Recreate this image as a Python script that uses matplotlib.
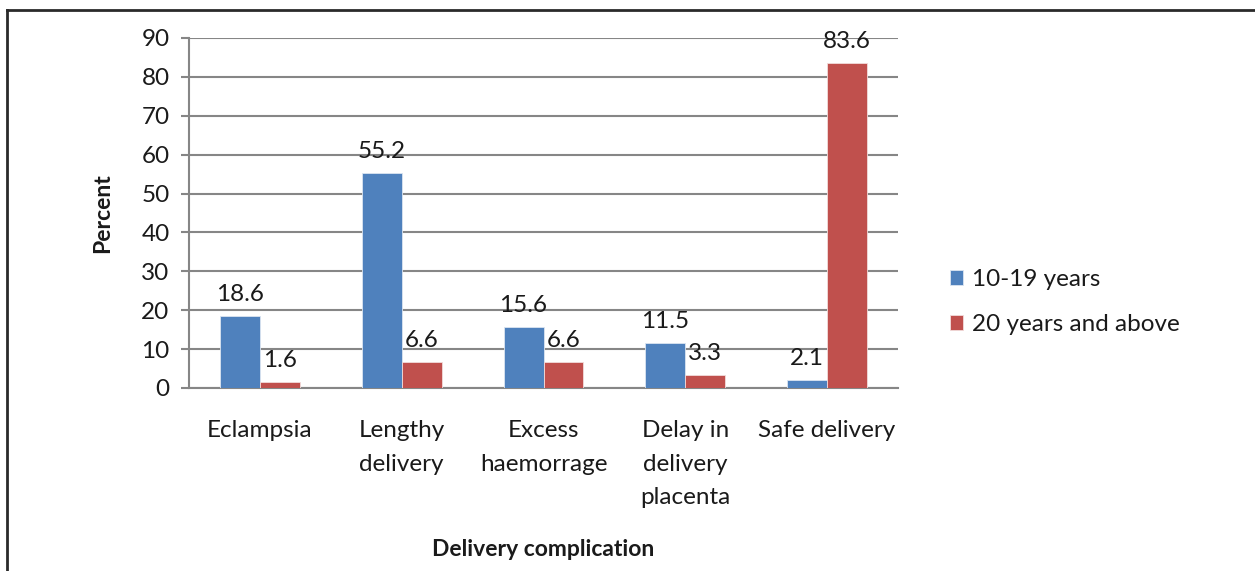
import matplotlib
matplotlib.use("Agg")
import matplotlib.pyplot as plt
import numpy as np
from matplotlib.lines import Line2D

categories = ["Eclampsia", "Lengthy\ndelivery", "Excess\nhaemorrage",
              "Delay in\ndelivery\nplacenta", "Safe delivery"]
teen_values = [18.6, 55.2, 15.6, 11.5, 2.1]
adult_values = [1.6, 6.6, 6.6, 3.3, 83.6]
series_names = ["10-19 years", "20 years and above"]
y_ticks = [0, 10, 20, 30, 40, 50, 60, 70, 80, 90]

plt.rcParams["font.family"] = ["Lato", "DejaVu Sans"]
text_color = "#1a1a1a"
grid_color = "#868686"
blue = "#4F81BD"
red = "#C0504D"
fs = 17.5

fig = plt.figure(figsize=(12.55, 5.71), dpi=100)
ax = fig.add_axes([189 / 1255, 1 - 388 / 571, (898 - 189) / 1255, (388 - 38) / 571])

x = np.arange(len(categories))
w = 0.282
b1 = ax.bar(x - w / 2, teen_values, w, color=blue, edgecolor="#dbe5f1", linewidth=0.6,
            label=series_names[0], zorder=3)
b2 = ax.bar(x + w / 2, adult_values, w, color=red, edgecolor="#f2dcdb", linewidth=0.6,
            label=series_names[1], zorder=3)

for bars, vals in ((b1, teen_values), (b2, adult_values)):
    for rect, v in zip(bars, vals):
        ax.annotate(f"{v:.1f}", (rect.get_x() + rect.get_width() / 2, v),
                    xytext=(0, 8), textcoords="offset points", ha="center",
                    va="bottom", fontsize=fs, color=text_color, zorder=4)

ax.set_xlim(-0.5, len(categories) - 0.5)
ax.set_ylim(0, 90)
ax.set_yticks(y_ticks)
ax.set_xticks(x)
ax.set_xticklabels(categories, fontsize=fs, color=text_color, linespacing=1.75)
ax.tick_params(axis="x", length=0, pad=23)
ax.tick_params(axis="y", length=6, width=1.5, color=grid_color, labelsize=fs,
               labelcolor=text_color, pad=8)

ax.yaxis.grid(True, color=grid_color, linewidth=1.5, zorder=0)
ax.set_axisbelow(True)
for side in ("top", "right"):
    ax.spines[side].set_visible(False)
for side in ("left", "bottom"):
    ax.spines[side].set_color(grid_color)
    ax.spines[side].set_linewidth(1.5)

ax.set_ylabel("Percent", fontsize=16.5, fontweight="bold", color=text_color, labelpad=20)
ax.set_xlabel("Delivery complication", fontsize=16.5, fontweight="bold", color=text_color,
              labelpad=22)

leg = fig.legend(handles=[b1, b2], labels=series_names, loc="center left",
                 bbox_to_anchor=(928 / 1255, 1 - 302 / 571), frameon=False,
                 fontsize=fs, handlelength=0.55, handleheight=0.55,
                 handletextpad=0.35, labelspacing=1.0)
for t in leg.get_texts():
    t.set_color(text_color)

# outer frame: left and top edges
fig.add_artist(Line2D([6.5 / 1255, 6.5 / 1255], [0, 1 - 9.5 / 571], color="#2a2a2a",
                      linewidth=2, transform=fig.transFigure))
fig.add_artist(Line2D([6.5 / 1255, 1], [1 - 9.5 / 571, 1 - 9.5 / 571], color="#2a2a2a",
                      linewidth=2, transform=fig.transFigure))

fig.savefig("out.png", dpi=100, facecolor="white")
